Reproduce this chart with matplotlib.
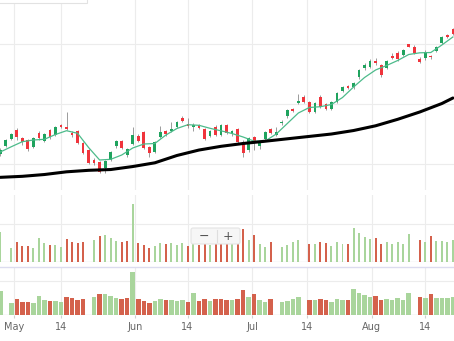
import numpy as np
import matplotlib.pyplot as plt
from matplotlib.patches import FancyBboxPatch, Rectangle

# daily sessions, one entry per trading slot
opens = [11.67, 13.08, 14.22, 15.67, 14.38, 14.00, 12.88, 15.22, 13.88, 15.67,
         14.83, 16.50, 16.22, 15.22, 15.50, 13.55, 12.33, 10.67, 10.38, 9.28,
         10.67, 13.00, 13.83, 11.50, 13.33, 14.75, 15.33, 12.83, 12.05, 14.55,
         15.50, 15.50, 16.22, 17.72, 16.72, 16.17, 16.50, 15.83, 14.67, 16.22,
         14.83, 16.50, 14.92, 15.78, 13.72, 12.33, 14.55, 12.92, 14.25, 15.78,
         14.83, 16.83, 17.92, 19.17, 20.25, 21.22, 20.38, 18.75, 21.22, 19.92,
         19.12, 20.38, 22.17, 23.00, 22.75, 24.42, 25.95, 26.22, 27.17, 26.50,
         25.95, 28.00, 28.55, 28.17, 29.92, 29.55, 27.45, 27.62, 28.00, 28.88,
         30.12, 31.50, 32.45]
highs = [12.67, 14.25, 15.25, 15.92, 14.58, 14.17, 14.58, 15.42, 15.17, 15.83,
         16.33, 16.75, 18.62, 15.50, 15.67, 13.75, 12.50, 10.92, 10.58, 10.67,
         12.25, 14.08, 14.00, 12.67, 16.17, 14.92, 15.50, 13.00, 13.83, 16.33,
         15.67, 17.05, 17.17, 17.92, 17.67, 16.83, 16.67, 16.00, 15.75, 16.42,
         16.67, 16.67, 15.67, 16.00, 13.92, 14.50, 14.75, 13.92, 15.58, 16.00,
         16.22, 17.33, 19.25, 19.33, 21.62, 21.42, 20.58, 20.33, 21.42, 20.17,
         20.58, 22.00, 23.00, 23.17, 23.67, 25.83, 26.75, 27.42, 27.72, 26.67,
         27.33, 28.55, 28.75, 29.17, 30.08, 29.75, 27.88, 28.92, 28.17, 29.67,
         31.33, 31.67, 32.67]
lows = [11.33, 12.83, 14.00, 14.00, 13.17, 12.17, 12.67, 14.08, 13.67, 14.25,
        14.67, 15.92, 15.75, 14.58, 13.33, 11.67, 10.00, 9.83, 8.45, 8.55,
        10.50, 12.75, 12.42, 11.25, 13.17, 13.67, 12.42, 11.22, 11.83, 14.33,
        14.67, 15.33, 16.00, 17.00, 16.08, 15.50, 15.83, 14.08, 14.50, 14.67,
        14.67, 15.00, 14.67, 13.50, 11.17, 12.08, 12.33, 12.58, 14.00, 14.92,
        14.67, 16.58, 17.67, 18.67, 20.08, 20.17, 18.50, 18.50, 19.33, 18.92,
        18.92, 20.17, 21.92, 22.50, 22.50, 24.17, 25.67, 26.00, 26.50, 24.58,
        25.75, 27.50, 27.17, 27.92, 29.42, 28.33, 26.83, 27.33, 27.50, 28.67,
        29.92, 31.00, 31.50]
closes = [12.33, 14.00, 15.00, 14.45, 13.72, 12.42, 14.38, 14.28, 14.95, 14.45,
          16.12, 16.12, 15.88, 14.88, 13.55, 11.88, 10.22, 10.12, 8.72, 10.50,
          12.05, 13.88, 12.62, 12.45, 14.83, 13.88, 12.62, 11.83, 13.67, 15.38,
          14.92, 15.78, 16.95, 17.17, 16.28, 16.50, 16.05, 14.25, 15.55, 14.83,
          16.50, 15.22, 15.42, 13.72, 11.78, 14.28, 13.72, 13.72, 15.38, 15.12,
          15.38, 17.08, 19.00, 18.83, 20.58, 20.38, 18.72, 20.12, 19.55, 19.17,
          20.33, 21.78, 22.75, 22.72, 23.45, 25.67, 26.50, 27.22, 26.88, 24.83,
          27.17, 27.72, 27.42, 29.00, 29.58, 28.58, 27.05, 28.72, 27.75, 29.50,
          31.17, 31.22, 31.70]

# volume (millions); None = no print that day
volume = [15.9, None, 7.4, 10.3, 8.3, 8.3, 7.1, 12.7, 9.7, 8.8,
          8.8, 7.6, 12.0, 10.6, 9.7, 10.3, None, 11.5, 13.8, 14.1,
          12.4, 10.8, 10.4, 10.8, 30.4, 10.1, 9.0, 7.4, 8.5, 10.1,
          9.4, 9.7, 8.8, 9.7, 8.3, 15.0, 9.0, 10.0, 9.0, 10.0,
          10.5, 9.7, 9.7, 10.2, 17.1, 11.5, 14.1, 9.2, 7.6, 10.3,
          None, 8.0, 8.7, 10.3, 11.5, None, 9.4, 9.4, 10.4, 9.7,
          8.3, 10.4, 9.4, 9.4, 17.9, 15.0, 13.3, 12.0, 12.7, 9.5,
          10.3, 9.2, 10.6, 9.5, 14.7, None, 11.5, 10.6, 13.8, 11.0,
          11.0, 10.6, 11.5]
vol_up = [1, 1, 1, 0, 0, 0, 1, 1, 1, 0,
          1, 1, 0, 0, 0, 0, 1, 1, 0, 1,
          1, 1, 0, 0, 1, 0, 0, 0, 1, 1,
          0, 1, 1, 1, 0, 1, 0, 0, 1, 0,
          0, 0, 1, 0, 0, 1, 0, 1, 1, 0,
          1, 1, 1, 1, 1, 1, 0, 1, 0, 0,
          1, 1, 1, 0, 1, 1, 1, 1, 0, 0,
          1, 1, 1, 1, 1, 1, 0, 1, 0, 1,
          1, 1, 1]

# short moving average, sampled every second session
fast_ma_x = list(range(0, 83, 2)) + [82]
fast_ma = [12.00, 12.88, 13.72, 14.00, 14.12, 14.92, 15.55, 15.12, 12.75, 10.67,
           10.78, 11.50, 12.67, 13.33, 13.42, 14.83, 15.92, 16.55, 16.45, 15.95,
           15.53, 15.08, 14.50, 13.80, 13.83, 15.00, 16.75, 18.50, 19.42, 19.55,
           19.92, 21.08, 22.83, 24.42, 25.67, 26.42, 27.25, 28.25, 28.53, 28.58,
           29.83, 31.17]
fast_ma_x = fast_ma_x[:len(fast_ma)]

# long moving average
slow_ma_x = [0, 4, 8, 12, 16, 20, 24, 28, 32, 36, 40, 44, 48, 52, 56, 60, 64,
             68, 72, 76, 80, 82]
slow_ma = [7.78, 7.95, 8.25, 8.70, 8.95, 9.08, 9.58, 10.20, 11.42, 12.33,
           12.95, 13.42, 13.80, 14.20, 14.60, 15.00, 15.58, 16.37, 17.45, 18.67,
           20.08, 21.00]

tick_pos = [2.54, 11.05, 24.46, 33.93, 45.6, 55.56, 67.33, 77.0]
tick_labels = ["May", "14", "Jun", "14", "Jul", "14", "Aug", "14"]

W, H = 454, 341
fig = plt.figure(figsize=(W / 100, H / 100), dpi=100)
fig.patch.set_facecolor("white")

def frac(top, bottom):
    return [0, 1 - bottom / H, 1, (bottom - top) / H]

ax_p = fig.add_axes(frac(0, 190))
ax_v = fig.add_axes(frac(195, 261.7))
ax_v2 = fig.add_axes(frac(267, 315))

x = np.arange(len(opens))
xlim = (-0.05, 82.2)
grid_c = "#ececec"

for ax in (ax_p, ax_v, ax_v2):
    ax.set_xlim(*xlim)
    ax.set_facecolor("none")
    for s in ax.spines.values():
        s.set_visible(False)
    ax.set_xticks(tick_pos)
    ax.grid(True, color=grid_c, lw=0.8)
    ax.set_axisbelow(True)
    ax.tick_params(left=False, labelleft=False, bottom=False, labelbottom=False)

# candles
o = np.array(opens); c = np.array(closes)
up = c >= o
ccol = np.where(up, "#1fa35e", "#f0343c")
ax_p.vlines(x, lows, highs, color="#8c8c8c", lw=0.6, zorder=2)
body_lo = np.minimum(o, c)
body_h = np.maximum(np.abs(c - o), 0.15)
ax_p.bar(x, body_h, bottom=body_lo, width=0.5, color=ccol, lw=0, zorder=3)
ax_p.plot(fast_ma_x, fast_ma, color="#4dbb8b", lw=0.9, zorder=4)
ax_p.plot(slow_ma_x, slow_ma, color="black", lw=2.2, zorder=4,
          solid_capstyle="round")
ax_p.set_ylim(5.67, 37.33)
ax_p.set_yticks([10, 20, 30])

# volume panels
vx = [i for i, v in enumerate(volume) if v is not None]
vv = np.array([volume[i] for i in vx])
vcol = ["#a9d59c" if vol_up[i] else "#d4614c" for i in vx]

ax_v.bar(vx, vv, width=0.36, color=vcol, lw=0, zorder=3)
ax_v.set_ylim(0, 35.4)
ax_v.set_yticks([20])
ax_v.axhline(0, color="#e2e2e2", lw=1, zorder=2)

v2_lo = -1.7
ax_v2.bar(vx, vv - v2_lo, bottom=v2_lo, width=0.82, color=vcol, lw=0, zorder=3)
ax_v2.set_ylim(v2_lo, 33.96)
ax_v2.set_yticks([23.5])
ax_v2.axhline(v2_lo, color="#dcdcdc", lw=1, zorder=2)
ax_v2.set_xticklabels(tick_labels)
ax_v2.tick_params(bottom=True, labelbottom=True, length=2, color="#d0d0d0",
                  pad=3, labelsize=7, labelcolor="#666666")

# overlay in pixel coordinates for the chart chrome
ov = fig.add_axes([0, 0, 1, 1], zorder=10)
ov.set_xlim(0, W)
ov.set_ylim(H, 0)
ov.axis("off")
ov.patch.set_alpha(0)

ov.plot([0, W], [266.7, 266.7], color="#dcdcef", lw=1)
ov.add_patch(Rectangle((-5, -5), 92, 7.7, facecolor="white",
                       edgecolor="#e2e2e2", lw=0.8))
ov.add_patch(FancyBboxPatch((191, 228), 49, 16,
                            boxstyle="round,pad=0,rounding_size=2",
                            facecolor="#f6f6f6", edgecolor="#e4e4e4", lw=0.8))
ov.plot([216.7, 216.7], [230, 242], color="#dedede", lw=0.8)
ov.text(203.5, 236, "\u2212", ha="center", va="center", fontsize=9,
        color="#555555")
ov.text(227.5, 236, "+", ha="center", va="center", fontsize=9,
        color="#555555")

fig.savefig("out.png", dpi=100)
